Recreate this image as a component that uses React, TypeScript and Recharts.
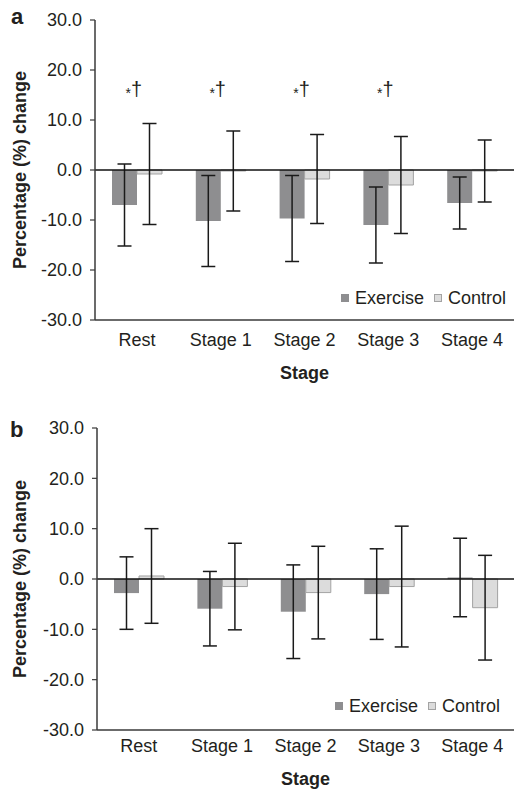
import React from 'react';
import {
  BarChart,
  Bar,
  XAxis,
  YAxis,
  ErrorBar,
  ReferenceLine,
  ReferenceDot,
  Legend,
  Label,
} from 'recharts';

// ---------- data ----------
const stages = ['Rest', 'Stage 1', 'Stage 2', 'Stage 3', 'Stage 4'];
const yTicks = [-30, -20, -10, 0, 10, 20, 30];
const seriesNames = ['Exercise', 'Control'];

// panel a
const aExerciseMean = [-7.0, -10.2, -9.7, -11.0, -6.6];
const aExerciseSD = [8.2, 9.1, 8.6, 7.6, 5.2];
const aControlMean = [-0.8, -0.2, -1.8, -3.0, -0.2];
const aControlSD = [10.1, 8.0, 8.9, 9.7, 6.2];
const aMarkedStages = ['Rest', 'Stage 1', 'Stage 2', 'Stage 3'];
const aMarkLevel = 16;

// panel b
const bExerciseMean = [-2.8, -5.9, -6.5, -3.0, 0.3];
const bExerciseSD = [7.2, 7.4, 9.3, 9.0, 7.8];
const bControlMean = [0.6, -1.5, -2.7, -1.5, -5.7];
const bControlSD = [9.4, 8.6, 9.2, 12.0, 10.4];

const buildRows = (exM: number[], exS: number[], coM: number[], coS: number[]) =>
  stages.map((s, i) => ({
    stage: s,
    exercise: exM[i],
    exerciseErr: exS[i],
    control: coM[i],
    controlErr: coS[i],
  }));

const dataA = buildRows(aExerciseMean, aExerciseSD, aControlMean, aControlSD);
const dataB = buildRows(bExerciseMean, bExerciseSD, bControlMean, bControlSD);

// ---------- styles ----------
const FONT = '"Liberation Sans", Arial, Helvetica, sans-serif';
const TEXT = '#231f20';
const EX_FILL = '#8e8e90';
const CO_FILL = '#dcdcdc';
const CO_STROKE = '#a3a3a3';
const AXIS = '#3a3a3a';

const legendBorders: Record<string, string> = { Exercise: 'none', Control: `1px solid ${CO_STROKE}` };

const renderLegend = (props: any) => {
  const payload = [...(props.payload || [])].sort(
    (a: any, b: any) => seriesNames.indexOf(a.value) - seriesNames.indexOf(b.value)
  );
  return (
    <div
      style={{
        display: 'flex',
        alignItems: 'center',
        fontSize: 18,
        lineHeight: '22px',
        color: TEXT,
        whiteSpace: 'nowrap',
        fontFamily: FONT,
      }}
    >
      {payload.map((e: any, i: number) => (
        <div key={i} style={{ display: 'flex', alignItems: 'center', marginLeft: i ? 10 : 0 }}>
          <span
            style={{
              display: 'inline-block',
              width: 8,
              height: 8,
              background: e.color,
              border: legendBorders[e.value] || 'none',
              boxSizing: 'border-box',
              marginRight: 6,
            }}
          />
          <span>{e.value}</span>
        </div>
      ))}
    </div>
  );
};

const MarkShape = (p: any) => (
  <text x={p.cx - 3} y={p.cy + 6} textAnchor="middle" fontSize={20} fill={TEXT} fontFamily={FONT}>
    <tspan fontSize={14} dy={2} fill={TEXT}>*</tspan>
    <tspan dy={-2} fill={TEXT}>†</tspan>
  </text>
);

type PanelProps = {
  data: any[];
  height: number;
  marginTop: number;
  marginBottom: number;
  yAxisWidth: number;
  xTickMargin: number;
  titleOffset: number;
  legendLeft: number;
  legendTop: number;
  marks?: string[];
  markLevel?: number;
};

const Panel = (p: PanelProps) => (
  <BarChart
    width={514}
    height={p.height}
    data={p.data}
    margin={{ top: p.marginTop, right: 0, bottom: p.marginBottom, left: 0 }}
    barGap={0}
  >
    <XAxis
      dataKey="stage"
      height={60}
      tickLine={false}
      tickSize={0}
      tickMargin={p.xTickMargin}
      axisLine={{ stroke: AXIS, strokeWidth: 1.5 }}
      tick={{ fontSize: 18, fill: TEXT, fontFamily: FONT }}
      interval={0}
    >
      <Label
        value="Stage"
        position="insideBottom"
        offset={p.titleOffset}
        style={{ fontWeight: 'bold', fontSize: 18, fill: TEXT, fontFamily: FONT }}
      />
    </XAxis>
    <YAxis
      width={p.yAxisWidth}
      domain={[-30, 30]}
      ticks={yTicks}
      interval={0}
      tickSize={5}
      tickMargin={8}
      tickFormatter={(v: number) => v.toFixed(1)}
      axisLine={{ stroke: AXIS, strokeWidth: 1.5 }}
      tickLine={{ stroke: AXIS, strokeWidth: 1.2 }}
      tick={{ fontSize: 18, fill: TEXT, fontFamily: FONT }}
    >
      <Label
        value="Percentage (%) change"
        angle={-90}
        position="insideLeft"
        offset={20}
        style={{ textAnchor: 'middle', fontWeight: 'bold', fontSize: 18, fill: TEXT, fontFamily: FONT }}
      />
    </YAxis>
    <Legend
      layout="horizontal"
      align="center"
      verticalAlign="middle"
      content={renderLegend}
      wrapperStyle={{ left: p.legendLeft, top: p.legendTop, width: 'auto', height: 'auto' }}
    />
    <Bar dataKey="exercise" name="Exercise" fill={EX_FILL} barSize={25} isAnimationActive={false}>
      <ErrorBar dataKey="exerciseErr" width={7} stroke="#1a1a1a" strokeWidth={1.5} direction="y" />
    </Bar>
    <Bar
      dataKey="control"
      name="Control"
      fill={CO_FILL}
      stroke={CO_STROKE}
      strokeWidth={1}
      barSize={25}
      isAnimationActive={false}
    >
      <ErrorBar dataKey="controlErr" width={7} stroke="#1a1a1a" strokeWidth={1.5} direction="y" />
    </Bar>
    <ReferenceLine y={0} stroke="#111" strokeWidth={1.5} />
    {(p.marks || []).map((s) => (
      <ReferenceDot key={s} x={s} y={p.markLevel} r={0} shape={MarkShape} />
    ))}
  </BarChart>
);

export default function App() {
  return (
    <div
      style={{
        position: 'absolute',
        left: 0,
        top: 0,
        width: 514,
        height: 790,
        overflow: 'hidden',
        background: '#fff',
        fontFamily: FONT,
      }}
    >
      <div style={{ position: 'absolute', left: 11, top: 6, fontSize: 22, lineHeight: '22px', fontWeight: 'bold', color: TEXT }}>
        a
      </div>
      <div style={{ position: 'absolute', left: 0, top: 0 }}>
        <Panel
          data={dataA}
          height={400}
          marginTop={20}
          marginBottom={20}
          yAxisWidth={95}
          xTickMargin={13}
          titleOffset={1}
          legendLeft={341}
          legendTop={287}
          marks={aMarkedStages}
          markLevel={aMarkLevel}
        />
      </div>
      <div style={{ position: 'absolute', left: 10, top: 419, fontSize: 22, lineHeight: '22px', fontWeight: 'bold', color: TEXT }}>
        b
      </div>
      <div style={{ position: 'absolute', left: 0, top: 400 }}>
        <Panel
          data={dataB}
          height={390}
          marginTop={28}
          marginBottom={0}
          yAxisWidth={97}
          xTickMargin={9}
          titleOffset={5}
          legendLeft={335}
          legendTop={295}
        />
      </div>
    </div>
  );
}
